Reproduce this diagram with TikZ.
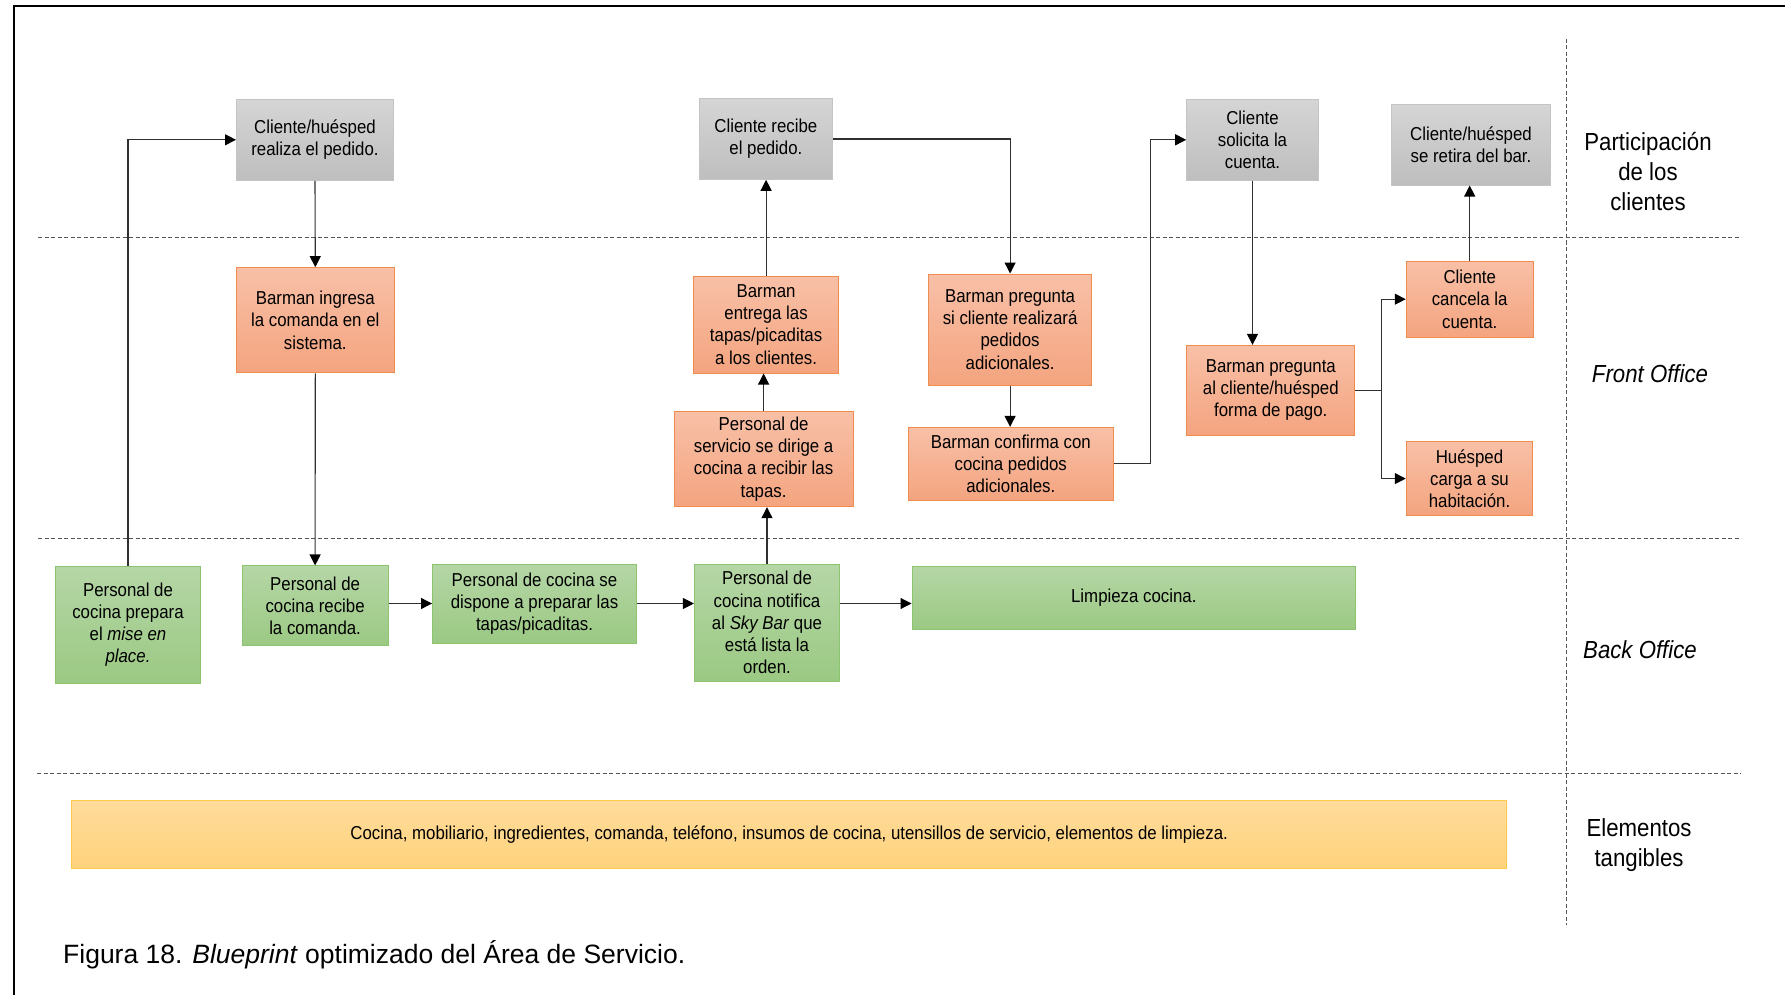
\documentclass[tikz,border=0pt]{standalone}
\usepackage{fontspec}
\setmainfont{Liberation Sans}
\newfontfamily\boxfont{Liberation Sans}[FakeStretch=0.9]
\usetikzlibrary{arrows.meta}

\definecolor{grayTop}{HTML}{D5D5D5}
\definecolor{grayBot}{HTML}{BEBEBE}
\definecolor{grayLine}{HTML}{C4C4C4}
\definecolor{orgTop}{HTML}{F8C0A7}
\definecolor{orgBot}{HTML}{F4A47F}
\definecolor{orgLine}{HTML}{F08C4E}
\definecolor{grnTop}{HTML}{B5D6A6}
\definecolor{grnBot}{HTML}{9BC983}
\definecolor{grnLine}{HTML}{8CC46F}
\definecolor{ylwTop}{HTML}{FFDC9C}
\definecolor{ylwBot}{HTML}{FFD27C}
\definecolor{ylwLine}{HTML}{FCC94A}
\definecolor{connLine}{HTML}{303030}
\definecolor{laneLine}{HTML}{555555}

\begin{document}
\begin{tikzpicture}[x=1pt,y=-1pt,
  box/.style={draw, line width=1pt, inner sep=0pt, align=center,
    font=\boxfont\fontsize{18.7}{22.3}\selectfont, text=black},
  graybox/.style={box, draw=grayLine, top color=grayTop, bottom color=grayBot},
  orangebox/.style={box, draw=orgLine, top color=orgTop, bottom color=orgBot},
  greenbox/.style={box, draw=grnLine, top color=grnTop, bottom color=grnBot},
  yellowbox/.style={box, draw=ylwLine, top color=ylwTop, bottom color=ylwBot},
  sz/.style 2 args={minimum width=#1, minimum height=#2},
  conn/.style={draw=connLine, line width=1.1pt,
    -{Triangle[length=11pt,width=11pt,color=black,fill=black]}},
  lane/.style={draw=laneLine, line width=1pt, dash pattern=on 4pt off 2.5pt},
  lanelabel/.style={align=center, font=\boxfont\fontsize{24.7}{30}\selectfont, text=black}
]
\useasboundingbox (0,0) rectangle (1785,995);

% frame
\draw[line width=2.5pt, black] (14,995) -- (14,6) -- (1785,6);

% swimlane separators
\draw[lane] (38,237) -- (1741,237);
\draw[lane] (38,538) -- (1741,538);
\draw[lane] (37,773.5) -- (1741,773.5);
\draw[lane] (1566,39) -- (1566,925);

% lane titles
\node[lanelabel] (lpart) at (1648,171.7) {Participación\\de los\\clientes};
\node[lanelabel] (lfront) at (1650,373.3) {\textit{Front Office}};
\node[lanelabel] (lback) at (1640,650) {\textit{Back Office}};
\node[lanelabel] (ltang) at (1639,845) {Elementos\\tangibles};

% customer actions
\node[graybox, sz={157}{81}] (g1) at (315,139.8) {Cliente/huésped\\realiza el pedido.};
\node[graybox, sz={133}{80.6}] (g2) at (765.9,139) {Cliente recibe\\el pedido.};
\node[graybox, sz={131.6}{81}] (g3) at (1252.5,139.8) {Cliente\\solicita la\\cuenta.};
\node[graybox, sz={159.3}{80.7}] (g4) at (1471,144.7) {Cliente/huésped\\se retira del bar.};

% front office
\node[orangebox, sz={157.7}{105.3}] (o1) at (315.3,320.3) {Barman ingresa\\la comanda en el\\sistema.};
\node[orangebox, sz={145.4}{97}] (o2) at (766.1,324.5) {Barman\\entrega las\\tapas/picaditas\\a los clientes.};
\node[orangebox, sz={163.4}{111}] (o3) at (1010.1,329.5) {Barman pregunta\\si cliente realizará\\pedidos\\adicionales.};
\node[orangebox, sz={178.8}{95.4}] (o4) at (763.6,459) {Personal de\\servicio se dirige a\\cocina a recibir las\\tapas.};
\node[orangebox, sz={205.6}{72.7}] (o5) at (1010.8,463.7) {Barman confirma con\\cocina pedidos\\adicionales.};
\node[orangebox, sz={168.3}{89.7}] (o6) at (1270.8,390.2) {Barman pregunta\\al cliente/huésped\\forma de pago.};
\node[orangebox, sz={126.9}{76.3}] (o7) at (1469.7,299.2) {Cliente\\cancela la\\cuenta.};
\node[orangebox, sz={126.5}{74.2}] (o8) at (1469.5,478.6) {Huésped\\carga a su\\habitación.};

% back office
\node[greenbox, sz={145}{117.3}] (b1) at (128,624.7) {Personal de\\cocina prepara\\el \textit{mise en}\\\textit{place.}};
\node[greenbox, sz={145.8}{79.7}] (b2) at (315.1,605.8) {Personal de\\cocina recibe\\la comanda.};
\node[greenbox, sz={203.9}{79.3}] (b3) at (534.5,603.7) {Personal de cocina se\\dispone a preparar las\\tapas/picaditas.};
\node[greenbox, sz={145.1}{116.7}] (b4) at (767,622.7) {Personal de\\cocina notifica\\al \textit{Sky Bar} que\\está lista la\\orden.};
\node[greenbox, sz={443.6}{63.3}] (b5) at (1133.8,597.7) {Limpieza cocina.};

% tangible elements
\node[yellowbox, sz={1434.9}{67.6}] (t1) at (789.2,834.5) {Cocina, mobiliario, ingredientes, comanda, teléfono, insumos de cocina, utensillos de servicio, elementos de limpieza.};

% caption
\node[anchor=base west, inner sep=0pt, font=\fontsize{26.5}{30}\selectfont] (cap) at (63,963)
  {Figura 18. \textit{Blueprint} optimizado del Área de Servicio.};

% flow
\draw[conn] (b1.north) |- (g1.west);
\draw[conn] (g1.south) -- (o1.north);
\draw[conn] (o1.south) -- (b2.north);
\draw[conn] (b2.east |- 0,603.5) -- (b3.west |- 0,603.5);
\draw[conn] (b3.east |- 0,603.5) -- (b4.west |- 0,603.5);
\draw[conn] (b4.east |- 0,603.5) -- (b5.west |- 0,603.5);
\draw[conn] (b4.north) -- (b4.north |- o4.south);
\draw[conn] (o4.north) -- (o4.north |- o2.south);
\draw[conn] (o2.north) -- (o2.north |- g2.south);
\draw[conn] (g2.east) -| (o3.north);
\draw[conn] (o3.south) -- (o3.south |- o5.north);
\draw[conn] (o5.east) -- ++(36.4,0) |- (g3.west);
\draw[conn] (g3.south) -- (g3.south |- o6.north);
\draw[conn] (o6.east) -- ++(25.6,0) |- (o7.west);
\draw[conn] (o6.east) -- ++(25.6,0) |- (o8.west);
\draw[conn] (o7.north) -- (o7.north |- g4.south);
\end{tikzpicture}
\end{document}
